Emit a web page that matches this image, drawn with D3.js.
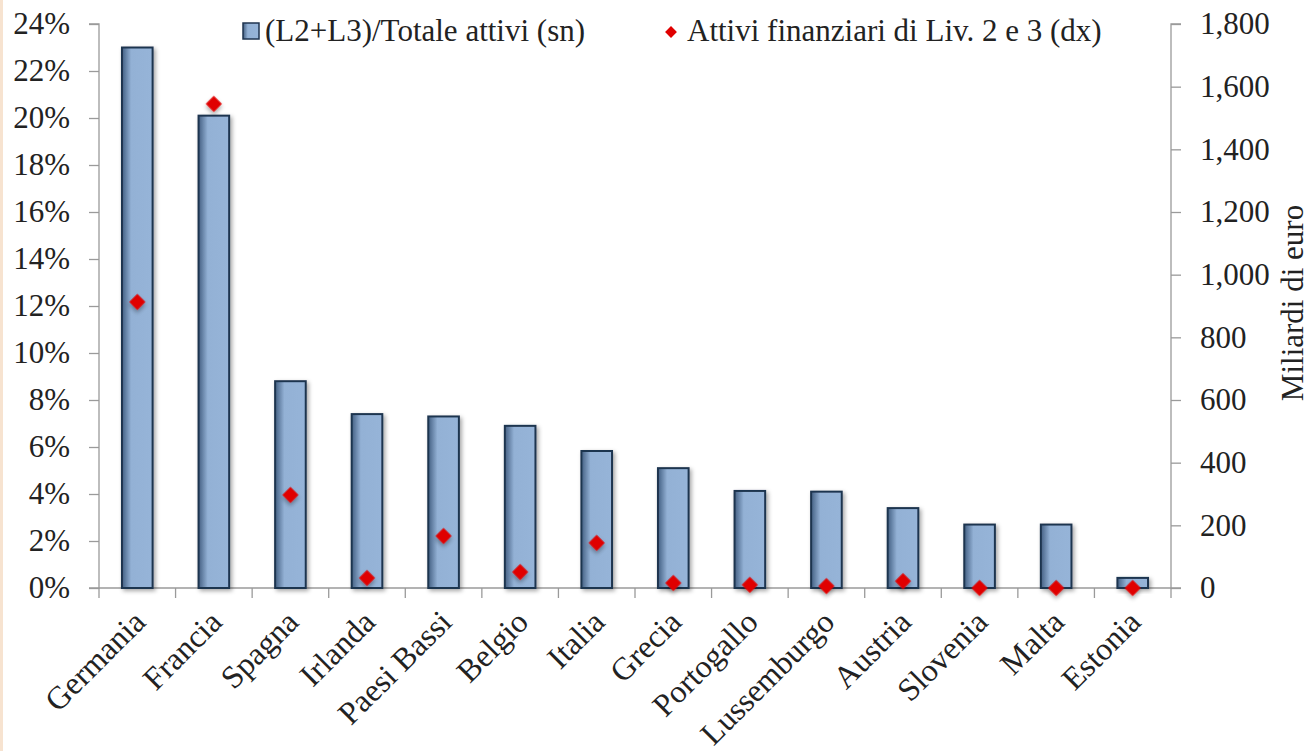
<!DOCTYPE html>
<html>
<head>
<meta charset="utf-8">
<script src="https://cdn.jsdelivr.net/npm/d3@7"></script>
<style>
  body { margin: 0; background: #fff; }
  text { font-family: "Liberation Serif", "DejaVu Serif", serif; fill: #222; }
</style>
</head>
<body>
<div id="chart"></div>
<script>
let w = 1314;
let h = 751;
let fs = 31;

// data
let paesi = ["Germania", "Francia", "Spagna", "Irlanda", "Paesi Bassi", "Belgio", "Italia",
  "Grecia", "Portogallo", "Lussemburgo", "Austria", "Slovenia", "Malta", "Estonia"];
let quota = [23.0, 20.1, 8.8, 7.4, 7.3, 6.9, 5.83, 5.1, 4.13, 4.1, 3.4, 2.7, 2.7, 0.43];
let attivi = [913, 1545, 297, 32, 166, 51, 144, 16, 10, 6, 22, 0, 0, 0];
let leftTicks = [0, 2, 4, 6, 8, 10, 12, 14, 16, 18, 20, 22, 24];
let rightTicks = [0, 200, 400, 600, 800, 1000, 1200, 1400, 1600, 1800];
let legendLabels = ["(L2+L3)/Totale attivi (sn)", "Attivi finanziari di Liv. 2 e 3 (dx)"];

let xLeft = 99, xRight = 1171, yTop = 24, yBottom = 588;

let svg = d3.select("#chart").append("svg")
  .attr("width", w)
  .attr("height", h);

let defs = svg.append("defs");
let grad = defs.append("linearGradient").attr("id", "barGrad")
  .attr("x1", "0%").attr("x2", "100%").attr("y1", "0%").attr("y2", "0%");
grad.append("stop").attr("offset", "0%").attr("stop-color", "#435f82");
grad.append("stop").attr("offset", "30%").attr("stop-color", "#93b1d5");
grad.append("stop").attr("offset", "100%").attr("stop-color", "#96b4d8");

let shadow = defs.append("filter").attr("id", "shadow")
  .attr("x", "-50%").attr("y", "-50%").attr("width", "200%").attr("height", "200%");
shadow.append("feDropShadow").attr("dx", 2).attr("dy", 2).attr("stdDeviation", 2)
  .attr("flood-color", "#000").attr("flood-opacity", 0.35);

// left border strip
svg.append("rect").attr("x", 0).attr("y", 0).attr("width", 3).attr("height", h)
  .attr("fill", "#f7e3d0");

// scales
let x = d3.scaleBand().domain(paesi).range([xLeft, xRight]).paddingInner(0.6).paddingOuter(0.3);
let xTick = d3.scaleLinear().domain([0, paesi.length]).range([xLeft, xRight]);
let yL = d3.scaleLinear().domain([0, 24]).range([yBottom, yTop]);
let yR = d3.scaleLinear().domain([0, 1800]).range([yBottom, yTop]);

// axes
let leftAxis = d3.axisLeft(yL).tickValues(leftTicks).tickSize(10).tickPadding(19)
  .tickFormat(d => d + "%");
let gL = svg.append("g").attr("transform", `translate(${xLeft},0)`).call(leftAxis);

let rightAxis = d3.axisRight(yR).tickValues(rightTicks).tickSize(10).tickPadding(19)
  .tickFormat(d3.format(",d"));
let gR = svg.append("g").attr("transform", `translate(${xRight},0)`).call(rightAxis);

let gX = svg.append("g").attr("transform", `translate(0,${yBottom})`);
gX.append("line").attr("x1", xLeft).attr("x2", xRight).attr("y1", 0).attr("y2", 0);
gX.selectAll(".tk").data(d3.range(paesi.length + 1)).enter()
  .append("line").attr("class", "tk")
  .attr("x1", d => xTick(d)).attr("x2", d => xTick(d))
  .attr("y1", 0).attr("y2", 10);
gX.selectAll("line").attr("stroke", "#9a9a9a").attr("stroke-width", 1.3);

[gL, gR].forEach(g => {
  g.select(".domain").attr("stroke", "#9a9a9a").attr("stroke-width", 1.3);
  g.selectAll(".tick line").attr("stroke", "#9a9a9a").attr("stroke-width", 1.3);
  g.selectAll(".tick text").attr("font-size", fs).attr("fill", "#222");
});
gL.select(".domain").attr("d", `M-10,${yBottom}H0V${yTop}H-10`);
gR.select(".domain").attr("d", `M10,${yBottom}H0V${yTop}H10`);

// category labels
gX.selectAll(".lab").data(paesi).enter()
  .append("text").attr("class", "lab")
  .attr("transform", d => `translate(${x(d) + x.bandwidth() / 2 + 2},28) rotate(-45)`)
  .attr("text-anchor", "end")
  .attr("dy", "0.35em")
  .attr("font-size", fs + 1)
  .text(d => d);

// bars
svg.selectAll(".bar").data(paesi).enter()
  .append("rect").attr("class", "bar")
  .attr("x", d => x(d))
  .attr("y", (d, i) => yL(quota[i]))
  .attr("width", x.bandwidth())
  .attr("height", (d, i) => yBottom - yL(quota[i]))
  .attr("fill", "url(#barGrad)")
  .attr("stroke", "#1f3550")
  .attr("stroke-width", 2)
  .attr("filter", "url(#shadow)");

// diamonds
let diamond = d3.symbol().type(d3.symbolSquare).size(130);
svg.selectAll(".pt").data(paesi).enter()
  .append("path").attr("class", "pt")
  .attr("d", diamond)
  .attr("transform", (d, i) => `translate(${x(d) + x.bandwidth() / 2},${yR(attivi[i])}) rotate(45)`)
  .attr("fill", "#e00000")
  .attr("filter", "url(#shadow)");

// right axis title
svg.append("text")
  .attr("transform", "translate(1303,303) rotate(-90)")
  .attr("text-anchor", "middle")
  .attr("font-size", fs)
  .text("Miliardi di euro");

// legend
svg.append("rect").attr("x", 243).attr("y", 23).attr("width", 16).attr("height", 16)
  .attr("fill", "url(#barGrad)").attr("stroke", "#1f3550").attr("stroke-width", 1.5);
svg.append("text").attr("x", 265).attr("y", 41).attr("font-size", fs).text(legendLabels[0]);
svg.append("path").attr("d", d3.symbol().type(d3.symbolSquare).size(70))
  .attr("transform", "translate(671,32) rotate(45)")
  .attr("fill", "#e00000");
svg.append("text").attr("x", 687).attr("y", 41).attr("font-size", fs).text(legendLabels[1]);
</script>
</body>
</html>
